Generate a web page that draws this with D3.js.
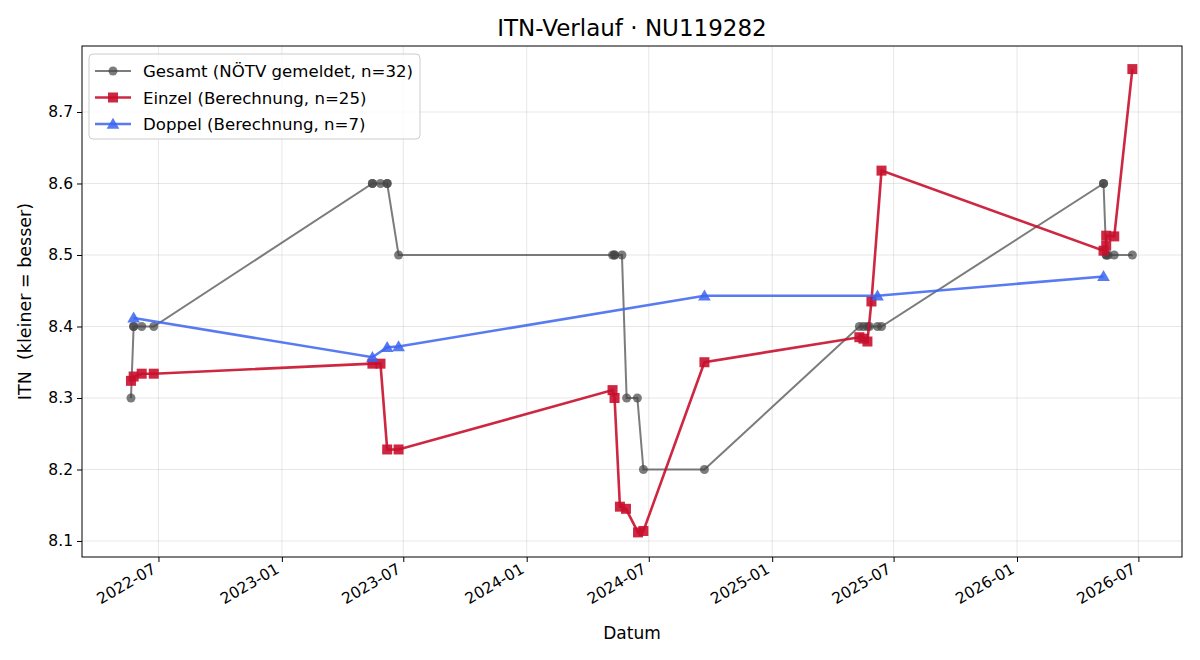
<!DOCTYPE html>
<html>
<head>
<meta charset="utf-8">
<script src="https://cdn.jsdelivr.net/npm/d3@7"></script>
<style>
  body { margin: 0; background: #fff; }
  text { font-family: "DejaVu Sans", sans-serif; fill: #000; }
</style>
</head>
<body>
<script>
// Gesamt (NÖTV gemeldet)
const gesamtDates = ["2022-05-21","2022-05-25","2022-05-25","2022-06-06","2022-06-24",
  "2023-05-16","2023-05-16","2023-05-28","2023-06-07","2023-06-07","2023-06-24",
  "2024-05-08","2024-05-11","2024-05-11","2024-05-22","2024-05-29","2024-06-14","2024-06-23",
  "2024-09-22",
  "2025-05-11","2025-05-17","2025-05-23","2025-05-26","2025-06-07","2025-06-13",
  "2026-05-10","2026-05-10","2026-05-14","2026-05-14","2026-05-17","2026-05-26","2026-06-22"];
const gesamtValues = [8.3,8.4,8.4,8.4,8.4,
  8.6,8.6,8.6,8.6,8.6,8.5,
  8.5,8.5,8.5,8.5,8.3,8.3,8.2,
  8.2,
  8.4,8.4,8.4,8.4,8.4,8.4,
  8.6,8.6,8.5,8.5,8.5,8.5,8.5];

// Einzel (Berechnung)
const einzelDates = ["2022-05-21","2022-05-25","2022-06-06","2022-06-24",
  "2023-05-16","2023-05-28","2023-06-07","2023-06-24",
  "2024-05-08","2024-05-11","2024-05-19","2024-05-28","2024-06-15","2024-06-23",
  "2024-09-22",
  "2025-05-11","2025-05-17","2025-05-23","2025-05-29","2025-06-13",
  "2026-05-10","2026-05-14","2026-05-14","2026-05-26","2026-06-22"];
const einzelValues = [8.324,8.330,8.334,8.334,
  8.348,8.348,8.228,8.228,
  8.311,8.300,8.148,8.145,8.112,8.114,
  8.350,
  8.385,8.383,8.379,8.435,8.618,
  8.506,8.513,8.527,8.526,8.760];

// Doppel (Berechnung)
const doppelDates = ["2022-05-25","2023-05-16","2023-06-07","2023-06-24","2024-09-22","2025-06-07","2026-05-10"];
const doppelValues = [8.412,8.357,8.371,8.372,8.443,8.443,8.470];

const xTicks = ["2022-07","2023-01","2023-07","2024-01","2024-07","2025-01","2025-07","2026-01","2026-07"];
const yTicks = [8.1, 8.2, 8.3, 8.4, 8.5, 8.6, 8.7];

const W = 1200, H = 660;
const m = { left: 82, right: 1182, top: 46, bottom: 557 };
const parse = d3.timeParse("%Y-%m-%d");
const parseMonth = d3.timeParse("%Y-%m");

const svg = d3.select("body").append("svg").attr("width", W).attr("height", H);

const x = d3.scaleTime()
  .domain([parse("2022-03-09"), parse("2026-09-04")])
  .range([m.left, m.right]);
const y = d3.scaleLinear()
  .domain([8.0776, 8.7923])
  .range([m.bottom, m.top]);

// grid
const grid = svg.append("g");
xTicks.forEach(t => {
  grid.append("line")
    .attr("x1", x(parseMonth(t))).attr("x2", x(parseMonth(t)))
    .attr("y1", m.top).attr("y2", m.bottom)
    .attr("stroke", "#b0b0b0").attr("stroke-opacity", 0.3).attr("stroke-width", 1);
});
yTicks.forEach(t => {
  grid.append("line")
    .attr("x1", m.left).attr("x2", m.right)
    .attr("y1", y(t)).attr("y2", y(t))
    .attr("stroke", "#b0b0b0").attr("stroke-opacity", 0.3).attr("stroke-width", 1);
});

// axes
const xAxis = d3.axisBottom(x)
  .tickValues(xTicks.map(parseMonth))
  .tickFormat(d3.timeFormat("%Y-%m"))
  .tickSize(5).tickSizeOuter(0);
const gx = svg.append("g").attr("transform", `translate(0,${m.bottom})`).call(xAxis);
gx.select(".domain").remove();
gx.selectAll("text")
  .style("font-size", "15.5px")
  .attr("text-anchor", "end")
  .attr("dx", 0).attr("dy", 0)
  .attr("transform", "translate(-2,15) rotate(-30)")
  .attr("y", 0).attr("x", 0);

const yAxis = d3.axisLeft(y).tickValues(yTicks).tickFormat(d3.format(".1f")).tickSize(5).tickSizeOuter(0);
const gy = svg.append("g").attr("transform", `translate(${m.left},0)`).call(yAxis);
gy.select(".domain").remove();
gy.selectAll("text").style("font-size", "15.5px").attr("x", -9);
svg.selectAll(".tick line").attr("stroke", "#000");

function series(dates, values) {
  return dates.map((d, i) => ({ date: parse(d), value: values[i] }));
}
const line = d3.line().x(d => x(d.date)).y(d => y(d.value));

const plot = svg.append("g");

// Gesamt
const gData = series(gesamtDates, gesamtValues);
plot.append("path").datum(gData).attr("d", line)
  .attr("fill", "none").attr("stroke", "#444").attr("stroke-opacity", 0.7).attr("stroke-width", 2);
plot.selectAll(".g").data(gData).enter().append("circle")
  .attr("cx", d => x(d.date)).attr("cy", d => y(d.value)).attr("r", 4.5)
  .attr("fill", "#444").attr("fill-opacity", 0.7);

// Einzel
const eData = series(einzelDates, einzelValues);
plot.append("path").datum(eData).attr("d", line)
  .attr("fill", "none").attr("stroke", "#c8102e").attr("stroke-opacity", 0.9).attr("stroke-width", 2.6);
plot.selectAll(".e").data(eData).enter().append("rect")
  .attr("x", d => x(d.date) - 5).attr("y", d => y(d.value) - 5)
  .attr("width", 10).attr("height", 10)
  .attr("fill", "#c8102e").attr("fill-opacity", 0.9);

// Doppel
const dData = series(doppelDates, doppelValues);
const tri = d3.symbol().type(d3.symbolTriangle).size(70);
plot.append("path").datum(dData).attr("d", line)
  .attr("fill", "none").attr("stroke", "#3b64f0").attr("stroke-opacity", 0.85).attr("stroke-width", 2.6);
plot.selectAll(".d").data(dData).enter().append("path")
  .attr("d", tri)
  .attr("transform", d => `translate(${x(d.date)},${y(d.value) + 1})`)
  .attr("fill", "#3b64f0").attr("fill-opacity", 0.85);

// frame
svg.append("rect")
  .attr("x", m.left).attr("y", m.top)
  .attr("width", m.right - m.left).attr("height", m.bottom - m.top)
  .attr("fill", "none").attr("stroke", "#000").attr("stroke-width", 1);

// title and labels
svg.append("text").attr("x", (m.left + m.right) / 2).attr("y", 36)
  .attr("text-anchor", "middle").style("font-size", "23px")
  .text("ITN-Verlauf · NU119282");
svg.append("text").attr("x", (m.left + m.right) / 2).attr("y", 639)
  .attr("text-anchor", "middle").style("font-size", "17px")
  .text("Datum");
svg.append("text")
  .attr("transform", `translate(31,${(m.top + m.bottom) / 2}) rotate(-90)`)
  .attr("text-anchor", "middle").style("font-size", "17.5px").style("white-space", "pre")
  .text("ITN  (kleiner = besser)");

// legend
const legendItems = [
  { label: "Gesamt (NÖTV gemeldet, n=32)", color: "#444", op: 0.7, sym: "circle", lw: 2 },
  { label: "Einzel (Berechnung, n=25)", color: "#c8102e", op: 0.9, sym: "square", lw: 2.6 },
  { label: "Doppel (Berechnung, n=7)", color: "#3b64f0", op: 0.85, sym: "triangle", lw: 2.6 }
];
const lg = svg.append("g");
lg.append("rect").attr("x", 89).attr("y", 54).attr("width", 331).attr("height", 85)
  .attr("rx", 4).attr("fill", "#fff").attr("fill-opacity", 0.8)
  .attr("stroke", "#ccc").attr("stroke-width", 1);
legendItems.forEach((it, i) => {
  const yy = 71 + i * 26.5;
  lg.append("line").attr("x1", 95).attr("x2", 131).attr("y1", yy).attr("y2", yy)
    .attr("stroke", it.color).attr("stroke-opacity", it.op).attr("stroke-width", it.lw);
  if (it.sym === "circle") {
    lg.append("circle").attr("cx", 113).attr("cy", yy).attr("r", 4.5)
      .attr("fill", it.color).attr("fill-opacity", it.op);
  } else if (it.sym === "square") {
    lg.append("rect").attr("x", 108).attr("y", yy - 5).attr("width", 10).attr("height", 10)
      .attr("fill", it.color).attr("fill-opacity", it.op);
  } else {
    lg.append("path").attr("d", tri).attr("transform", `translate(113,${yy + 1})`)
      .attr("fill", it.color).attr("fill-opacity", it.op);
  }
  lg.append("text").attr("x", 143).attr("y", yy + 6).style("font-size", "16.6px").text(it.label);
});
</script>
</body>
</html>
